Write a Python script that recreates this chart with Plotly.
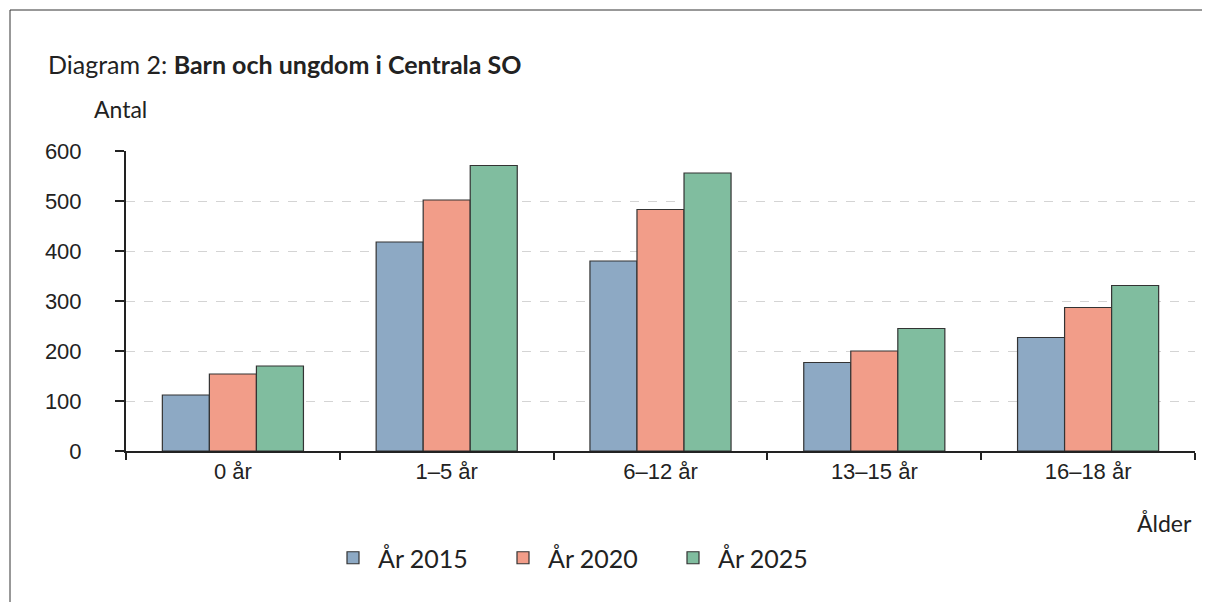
import plotly.graph_objects as go

categories = ["0 år", "1–5 år", "6–12 år", "13–15 år", "16–18 år"]
series_names = ["År 2015", "År 2020", "År 2025"]
values_2015 = [112, 418, 380, 177, 227]
values_2020 = [154, 502, 483, 200, 287]
values_2025 = [170, 571, 556, 245, 331]
colors = ["#8DA9C4", "#F29D89", "#80BD9F"]

TICKFONT = "Liberation Sans"
TEXTFONT = "Lato"
TXT = "#222222"

# page body has an 8px margin; work in reference pixel coords and shift
OFF = 8
W, H = 1210 - OFF, 610 - 2 * OFF
X0, X1, Y_TOP, Y_BOT = 126, 1195, 151, 451   # plot area in reference px
L = X0 - OFF
R = W - (X1 - OFF)
T = Y_TOP - OFF
B = H - (Y_BOT - OFF)
pw = X1 - X0
ph = Y_BOT - Y_TOP

def px(x):
    return (x - X0) / pw

def py(y):
    return (Y_BOT - y) / ph

fig = go.Figure()
for name, vals, col in zip(series_names, [values_2015, values_2020, values_2025], colors):
    fig.add_trace(go.Bar(
        x=categories, y=vals, name=name,
        marker=dict(color=col, line=dict(color="#333333", width=1.2)),
    ))

fig.update_layout(
    width=W, height=H,
    margin=dict(l=L, r=R, t=T, b=B),
    paper_bgcolor="white", plot_bgcolor="white",
    barmode="group", bargap=0.34, bargroupgap=0,
    font=dict(family=TICKFONT, size=22, color=TXT),
    showlegend=True,
    legend=dict(orientation="h", x=px(328), xanchor="left", y=py(558), yanchor="middle",
                font=dict(family=TEXTFONT, size=25, color=TXT), traceorder="normal",
                entrywidth=115, entrywidthmode="pixels", itemwidth=40),
    xaxis=dict(
        type="category", tickson="boundaries", ticks="outside", ticklen=7, tickwidth=1.5,
        tickcolor="#222", showline=True, linecolor="#222", linewidth=2,
        showgrid=False, tickfont=dict(size=22), fixedrange=True,
    ),
    yaxis=dict(
        range=[0, 600], tickvals=[0, 100, 200, 300, 400, 500, 600],
        ticks="outside", ticklen=9, tickwidth=1.5, tickcolor="#222",
        ticklabelstandoff=29,
        showline=True, linecolor="#222", linewidth=2,
        showgrid=True, gridcolor="#D4D4D4", griddash="dash", gridwidth=1,
        zeroline=False, tickfont=dict(size=22),
    ),
    annotations=[
        dict(xref="paper", yref="paper", x=px(46), y=py(64), xanchor="left", yanchor="middle",
             text="Diagram 2: <b>Barn och ungdom i Centrala SO</b>", showarrow=False,
             font=dict(family=TEXTFONT, size=25, color=TXT)),
        dict(xref="paper", yref="paper", x=px(92), y=py(109), xanchor="left", yanchor="middle",
             text="Antal", showarrow=False, font=dict(family=TEXTFONT, size=23, color=TXT)),
        dict(xref="paper", yref="paper", x=px(1194), y=py(523), xanchor="right", yanchor="middle",
             text="Ålder", showarrow=False, font=dict(family=TEXTFONT, size=23, color=TXT)),
    ],
    shapes=[
        dict(type="rect", xref="paper", yref="paper", x0=px(10), x1=px(1240), y0=py(640), y1=py(10),
             line=dict(color="#333333", width=1), fillcolor="rgba(0,0,0,0)", layer="below"),
    ],
)

fig.write_html("out.html")
